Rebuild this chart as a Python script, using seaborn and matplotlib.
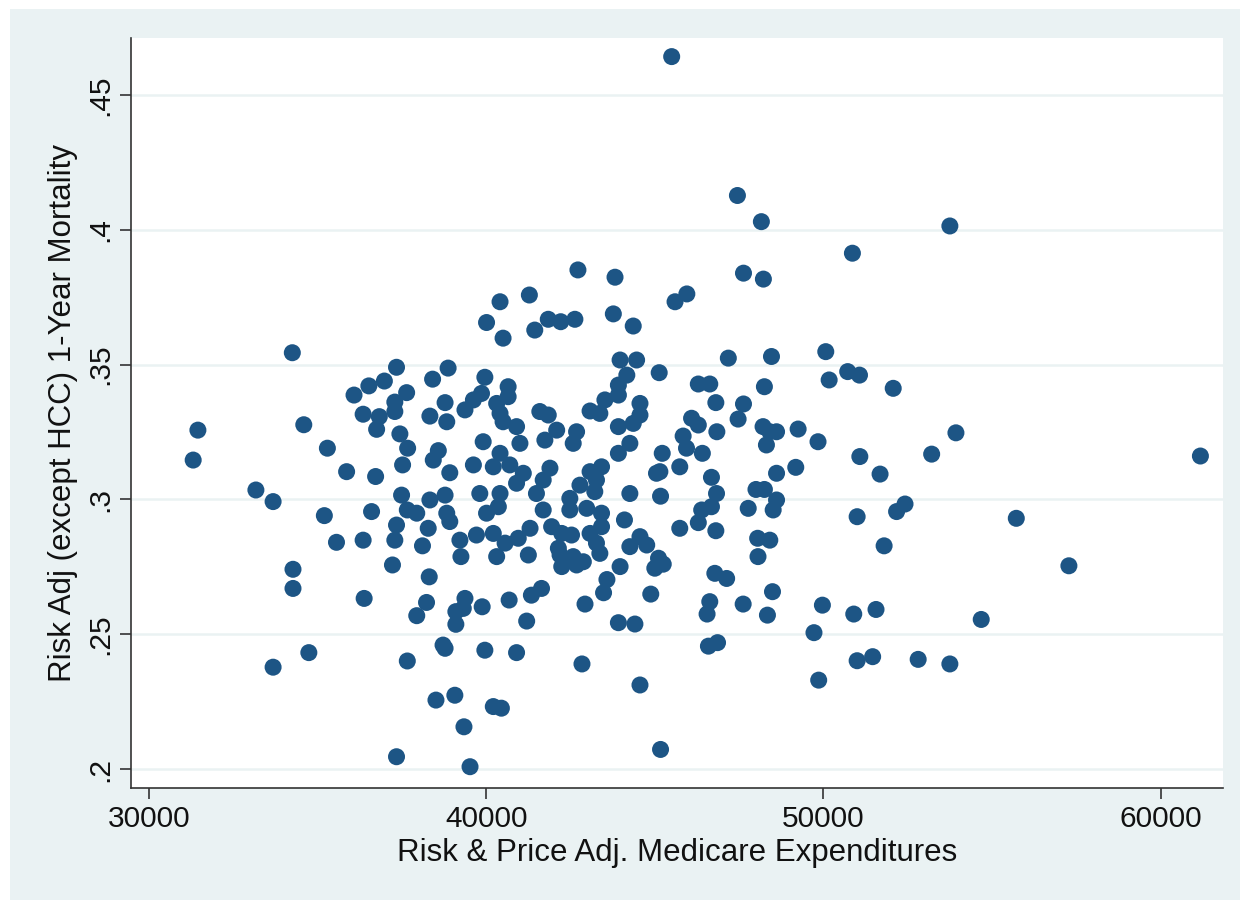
##Scatter of risk adjusted 1-year mortality vs. adjusted Medicare expenditures
import pandas as pd
import matplotlib.pyplot as plt
import matplotlib.ticker as mticker
import seaborn as sns

# values, one entry per hospital region
expend = [31450, 31310, 34250, 34590, 35290, 33170, 33680, 35200, 35560, 34270,
          34270, 34740, 33680, 40010, 37340, 38870, 36980, 36520, 36080, 38410,
          39960, 37640, 37290, 37290, 36350, 36830, 36750, 38780, 38330, 38830,
          39370, 39620, 39860, 37440, 37670, 38580, 38430, 39910, 39620, 35860,
          36720, 37520, 38920, 37490, 39810, 37660, 37940, 38330, 38780, 38830,
          36600, 37340, 38280, 38920, 40010, 36350, 37290, 38110, 39220, 39710,
          40210, 39250, 40310, 37220, 38310, 36380, 38230, 37940, 39370, 39320,
          39100, 39100, 39880, 38720, 38780, 39960, 37660, 38510, 39070, 40210,
          39340, 37340, 39520, 43820, 40410, 41280, 40500, 41440, 41840, 42210,
          42630, 43770, 44360, 43970, 44460, 44170, 43920, 43920, 43520, 43080,
          43370, 40650, 40650, 40310, 40410, 40500, 40900, 41000, 41590, 41840,
          42090, 41740, 42680, 42580, 43920, 44360, 44260, 43920, 40410, 40210,
          40700, 41100, 40900, 41890, 41690, 43080, 43420, 43270, 42780, 43220,
          41490, 40410, 40360, 41690, 42480, 42480, 42980, 44260, 43420, 44100,
          41300, 40950, 40560, 41940, 42240, 42530, 43080, 43420, 43270, 44260,
          41250, 42140, 42580, 42190, 42240, 42680, 42880, 43370, 43970, 43580,
          43480, 41640, 41340, 40680, 42930, 41200, 43920, 44410, 40900, 42840,
          44560, 40450, 45600, 45950, 47180, 48460, 45130, 46290, 46630, 48250,
          46810, 47630, 47470, 44560, 44560, 46090, 46290, 46840, 45840, 45940,
          48210, 48410, 48610, 48310, 45220, 46410, 45740, 45050, 45150, 46680,
          48610, 45170, 46830, 48000, 48250, 48610, 46390, 46680, 47770, 48510,
          46290, 45740, 46810, 44560, 44760, 48050, 48410, 45110, 48060, 45000,
          45250, 44880, 46780, 47130, 46630, 46550, 47620, 48490, 48340, 46590,
          46860, 45170, 50860, 50070, 50170, 50720, 51070, 52070, 49250, 49840,
          51080, 49180, 51680, 51000, 52170, 52420, 51800, 49970, 50900, 51560,
          49720, 51000, 51460, 52810, 49860, 53750, 53930, 53210, 61180, 55720,
          57280, 54680, 53750, 45500, 47450, 48160, 42720, 47630, 48220]
mortality = [.3257, .3146, .3544, .3277, .3190, .3035, .2992, .2940, .2841, .2741,
             .2670, .2432, .2378, .3656, .3490, .3487, .3439, .3421, .3387, .3446,
             .3453, .3396, .3361, .3326, .3316, .3307, .3260, .3359, .3309, .3288,
             .3332, .3369, .3393, .3243, .3190, .3181, .3146, .3214, .3128, .3103,
             .3085, .3128, .3099, .3016, .3022, .2961, .2949, .2998, .3016, .2949,
             .2955, .2905, .2893, .2918, .2949, .2849, .2849, .2828, .2849, .2868,
             .2874, .2788, .2788, .2757, .2713, .2633, .2618, .2569, .2633, .2596,
             .2584, .2537, .2602, .2460, .2448, .2441, .2401, .2256, .2274, .2232,
             .2157, .2046, .2009, .3824, .3733, .3758, .3598, .3628, .3668, .3659,
             .3668, .3688, .3643, .3517, .3517, .3461, .3424, .3387, .3369, .3328,
             .3319, .3418, .3381, .3356, .3319, .3288, .3270, .3208, .3326, .3313,
             .3257, .3220, .3251, .3208, .3270, .3282, .3208, .3171, .3171, .3121,
             .3128, .3097, .3060, .3116, .3072, .3103, .3121, .3072, .3053, .3029,
             .3022, .3022, .2973, .2961, .3004, .2961, .2967, .3022, .2949, .2924,
             .2893, .2856, .2838, .2899, .2874, .2868, .2874, .2899, .2838, .2825,
             .2794, .2819, .2788, .2794, .2751, .2757, .2769, .2800, .2751, .2703,
             .2654, .2670, .2645, .2627, .2612, .2549, .2543, .2538, .2432, .2390,
             .2312, .2226, .3733, .3762, .3524, .3530, .3470, .3428, .3428, .3418,
             .3359, .3354, .3298, .3356, .3313, .3301, .3276, .3251, .3235, .3190,
             .3270, .3251, .3251, .3202, .3171, .3171, .3121, .3097, .3103, .3082,
             .3097, .3012, .3022, .3037, .3037, .2998, .2961, .2973, .2967, .2961,
             .2914, .2893, .2884, .2862, .2831, .2856, .2849, .2782, .2788, .2745,
             .2760, .2649, .2726, .2707, .2621, .2575, .2612, .2658, .2571, .2456,
             .2469, .2073, .3913, .3548, .3443, .3474, .3461, .3412, .3261, .3214,
             .3159, .3119, .3094, .2936, .2955, .2983, .2828, .2608, .2575, .2592,
             .2506, .2402, .2417, .2407, .2330, .4014, .3247, .3168, .3161, .2930,
             .2754, .2555, .2390, .4642, .4127, .4030, .3851, .3839, .3817]

x_ticks = [30000, 40000, 50000, 60000]
y_ticks = [.2, .25, .3, .35, .4, .45]

df = pd.DataFrame({"expend": expend, "mortality": mortality})

sns.set_style("white")
plt.rcParams['font.family'] = ['Liberation Sans', 'DejaVu Sans']
plt.rcParams['text.color'] = '#111111'
plt.rcParams['axes.labelcolor'] = '#111111'
plt.rcParams['xtick.color'] = '#111111'
plt.rcParams['ytick.color'] = '#111111'
bg = '#eaf2f3'

fig = plt.figure(figsize=(12.5, 9.09), dpi=100)
fig.patch.set_facecolor('white')
fig.patches.append(plt.Rectangle((0.008, 0.01), 0.984, 0.98, transform=fig.transFigure,
                                 facecolor=bg, edgecolor='none', zorder=-10))
ax = fig.add_axes([0.1048, 0.1331, 0.8736, 0.8251])
ax.set_facecolor('white')

sns.scatterplot(data=df, x='expend', y='mortality', ax=ax, s=150, color='#1d5585',
                edgecolor='none', linewidth=0, zorder=3)

ax.set_xlim(29466, 61850)
ax.set_ylim(0.193, 0.4711)
ax.set_xticks(x_ticks)
ax.set_yticks(y_ticks)
ax.yaxis.set_major_formatter(mticker.FuncFormatter(lambda v, p: ('%g' % v).lstrip('0')))
ax.grid(axis='y', color=bg, linewidth=1.8, zorder=0)
ax.grid(axis='x', visible=False)
for side in ['top', 'right']:
    ax.spines[side].set_visible(False)
for side in ['left', 'bottom']:
    ax.spines[side].set_color('#333333')
    ax.spines[side].set_linewidth(1.2)
ax.tick_params(axis='both', direction='out', length=8, width=1.2, color='#333333',
               labelsize=21.5, left=True, bottom=True, pad=4)
plt.setp(ax.get_yticklabels(), rotation=90, va='center')

ax.set_xlabel('Risk & Price Adj. Medicare Expenditures', fontsize=22.5, labelpad=4)
ax.set_ylabel('Risk Adj (except HCC) 1-Year Mortality', fontsize=22.5, labelpad=6)

fig.savefig('out.png', dpi=100, facecolor=fig.get_facecolor())
